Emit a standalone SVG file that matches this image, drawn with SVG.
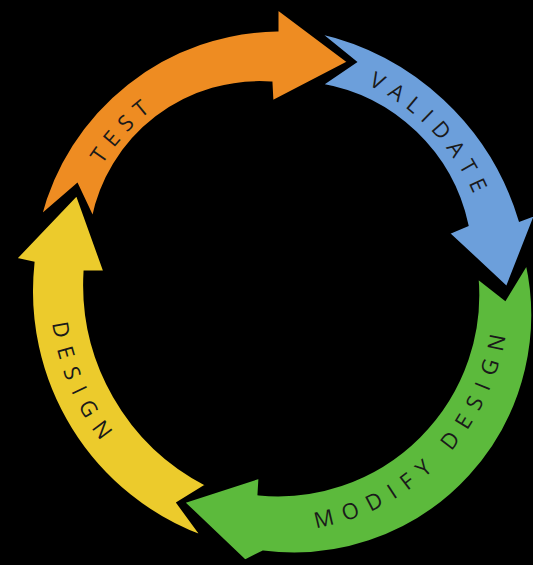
<svg xmlns="http://www.w3.org/2000/svg" width="533" height="565" viewBox="0 0 533 565">
<style>
.arrow{stroke:#000;stroke-width:3;stroke-linejoin:miter}
.lbl{font-family:"Open Sans","Noto Sans",sans-serif;font-size:22px;fill:#1a1a1a}
</style>
<defs>
<path id="pTest" d="M66,290 A214,225 0 0 1 280,65"/>
<path id="pVal" d="M280,65 A214,225 0 0 1 494,290"/>
<path id="pMod" d="M280,531 A230,241 0 0 0 510,290"/>
<path id="pDes" d="M63.9,207.6 A230,241 0 0 0 201.3,516.5"/>
</defs>
<rect width="533" height="565" fill="#000"/>
<g id="design">
<path class="arrow" fill="#ECCB2C" d="M203,537 A262,262 0 0 1 33,263 L15,259 L77,194 L105,272 L85,272 A225,225 0 0 0 207,485 L178,503 Z"/>
<text class="lbl" letter-spacing="10"><textPath href="#pDes" startOffset="50%" text-anchor="middle">DESIGN</textPath></text>
</g>
<g id="modify-design">
<path class="arrow" fill="#5CBA3C" d="M527,263 A239,239 0 0 1 263,552 L245,561 L183,502 L260,477 L259,494 A200,200 0 0 0 477,277 L505,299 Z"/>
<text class="lbl" letter-spacing="10" fill="#1a3214"><textPath href="#pMod" startOffset="50%" text-anchor="middle">MODIFY DESIGN</textPath></text>
</g>
<g id="validate">
<path class="arrow" fill="#6C9FDB" d="M318,32 A273,273 0 0 1 520,220 L536,214 L507,288 L448,233 L467,225 A181,181 0 0 0 321,85 L355,62 Z"/>
<text class="lbl" letter-spacing="8"><textPath href="#pVal" startOffset="50%" text-anchor="middle">VALIDATE</textPath></text>
</g>
<g id="test">
<path class="arrow" fill="#EE8C22" d="M40,217 A249,249 0 0 1 277,30 L277,8 L349,62 L272,102 L271,83 A170,170 0 0 0 93,219 L77,185 Z"/>
<text class="lbl" letter-spacing="8"><textPath href="#pTest" startOffset="50%" text-anchor="middle">TEST</textPath></text>
</g>
</svg>
